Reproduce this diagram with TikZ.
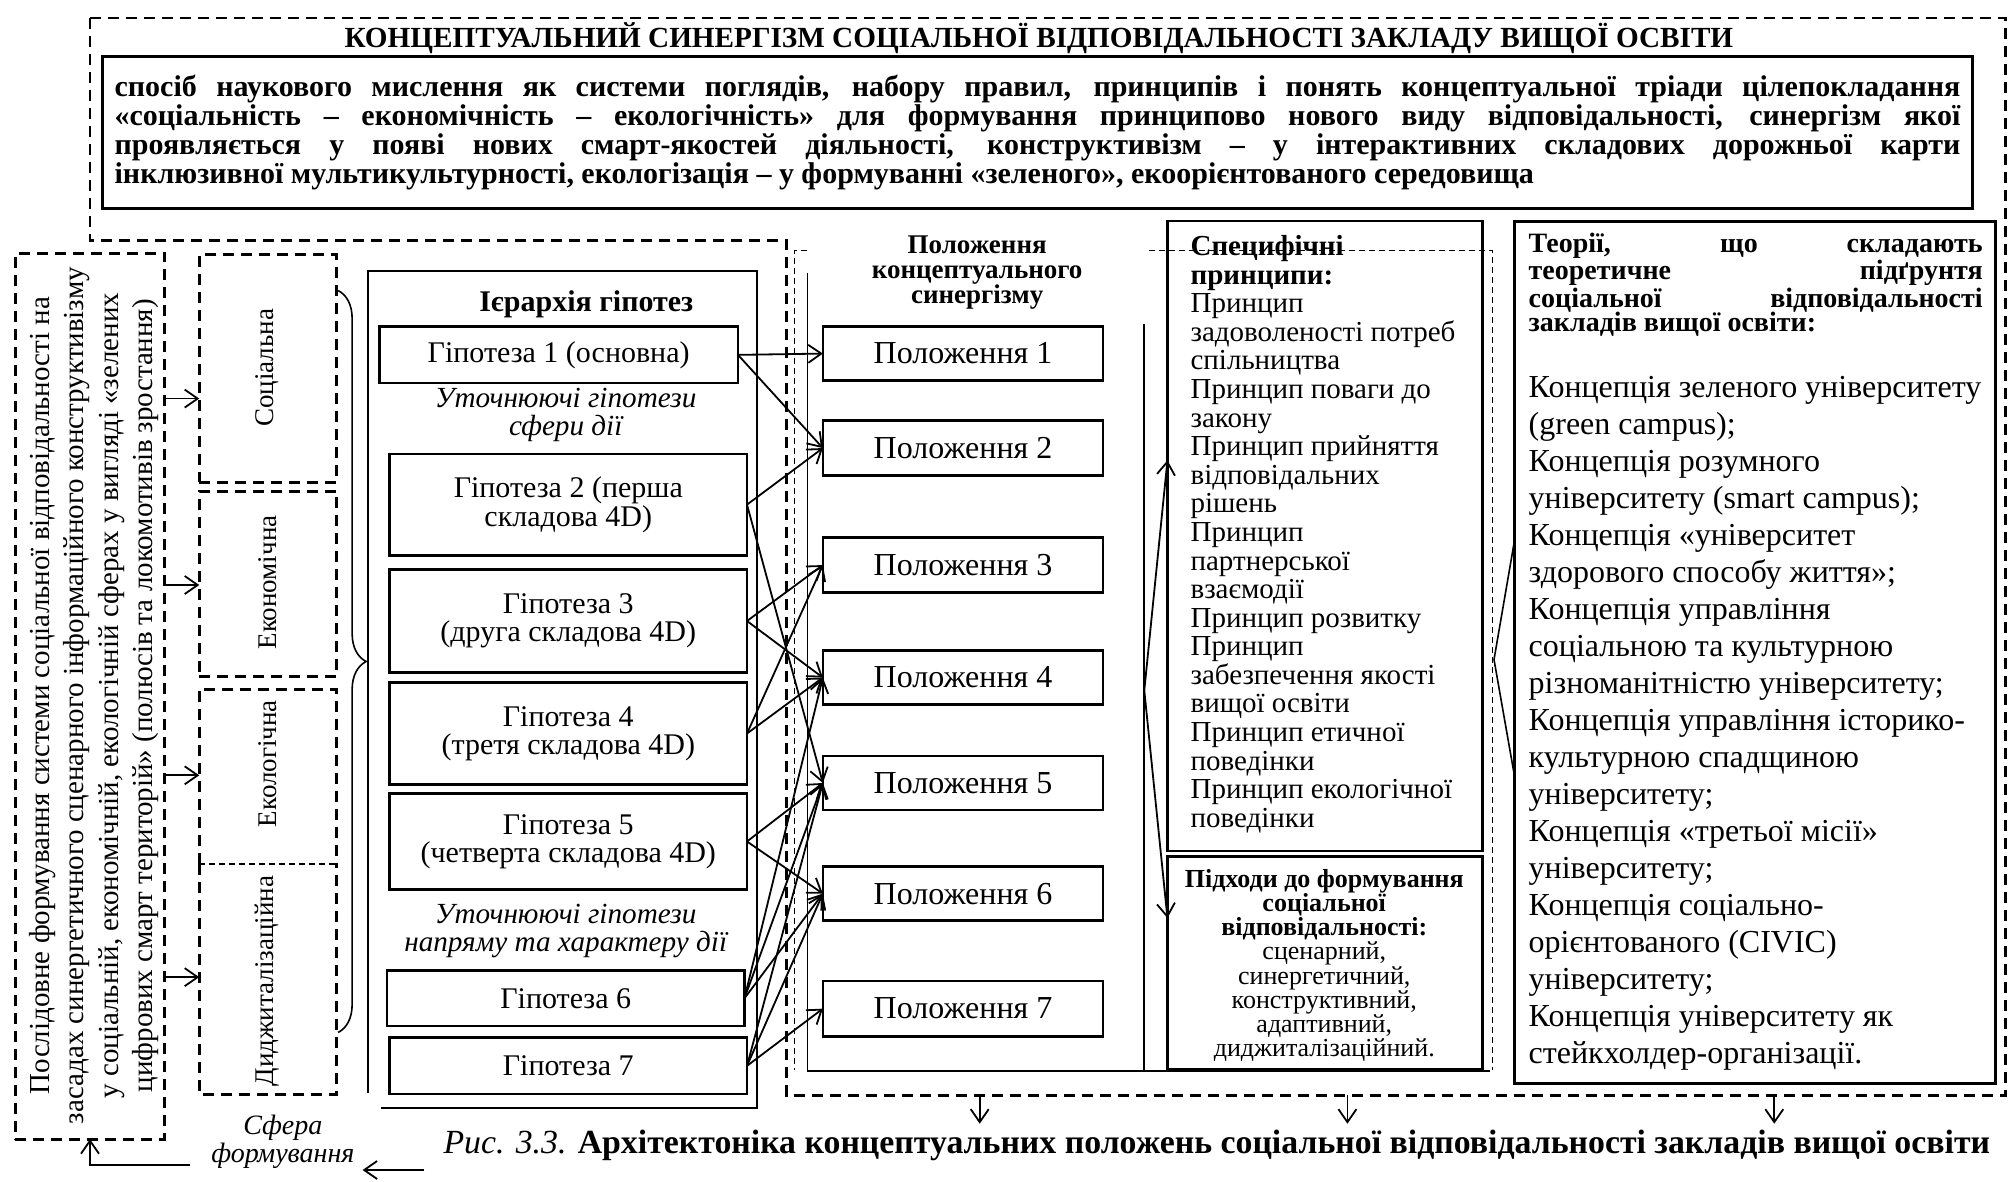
\documentclass[tikz,border=0pt]{standalone}
\usepackage{fontspec}
\setmainfont{Liberation Serif}
\usetikzlibrary{arrows.meta,fit,decorations.pathreplacing}
\newcommand{\fsz}[2]{\fontsize{#1}{#2}\selectfont}
\tolerance=9999
\hyphenpenalty=10000

\begin{document}
\begin{tikzpicture}[x=0.6429pt, y=-0.6429pt,
      >={Straight Barb[length=6.5pt,width=9pt]},
      every node/.style={inner sep=0pt, outer sep=0pt},
      bigdash/.style={line width=1.4pt, dash pattern=on 5.5pt off 3.5pt},
      thindash/.style={line width=0.6pt, dash pattern=on 3pt off 2pt},
      box/.style={draw, line width=1.3pt},
      hyptext/.style={align=center, font=\fsz{15}{14.2}},
      postext/.style={font=\fsz{16}{18}},
      sphere/.style={draw, bigdash},
      vlabel/.style={rotate=90, font=\fsz{13.5}{15}},
      hypnote/.style={align=center, font=\fsz{14.6}{14}\itshape},
      arr/.style={->, line width=0.9pt}]
      \useasboundingbox (0,0) rectangle (1568,919);

      \draw[bigdash] (70,14) -- (1560,14) -- (1560,852) -- (612,852) -- (612,187) -- (70,187) -- cycle;

      \node[font=\fsz{14.6}{16}\bfseries] (title) at (808,30)
        {КОНЦЕПТУАЛЬНИЙ СИНЕРГІЗМ СОЦІАЛЬНОЇ ВІДПОВІДАЛЬНОСТІ ЗАКЛАДУ ВИЩОЇ ОСВІТИ};
      \node[box, line width=1.6pt, fit={(80,44) (1534,162)}] (sense) {};
      \node[text width=923pt, align=justify, font=\fsz{15}{14.6}\bfseries] (sensetxt) at (sense)
        {спосіб наукового мислення як системи поглядів, набору правил, принципів і понять концептуальної тріади цілепокладання\linebreak
         «соціальність – економічність – екологічність» для формування принципово нового виду відповідальності, синергізм якої\linebreak
         проявляється у появі нових смарт-якостей діяльності, конструктивізм – у інтерактивних складових дорожньої карти\linebreak
         інклюзивної мультикультурності, екологізація – у формуванні «зеленого», екоорієнтованого середовища};

      % left column
      \node[sphere, fit={(12,197) (128,886)}] (lft) {};
      \node[rotate=90, align=center, font=\fsz{14.5}{17.2}] (lfttxt) at (73,541)
        {Послідовне формування системи соціальної відповідальності на\\
         засадах синергетичного сценарного інформаційного конструктивізму\\
         у соціальній, економічній, екологічній сферах у вигляді «зелених\\
         цифрових смарт територій» (полюсів та локомотивів зростання)};

      \node[sphere, fit={(155,198) (262,375)}] (s1) {};
      \node[sphere, fit={(155,382) (262,526)}] (s2) {};
      \node[fit={(155,536) (262,672)}] (s3) {};
      \node[fit={(155,672) (262,851)}] (s4) {};
      \draw[bigdash] (s3.south west) -- (s3.north west) -- (s3.north east) -- (s3.south east);
      \draw[bigdash] (s4.north west) -- (s4.south west) -- (s4.south east) -- (s4.north east);
      \draw[thindash] (s4.north west) -- (s4.north east);
      \node[vlabel] at (208,286) {Соціальна};
      \node[vlabel] at (208,453) {Економічна};
      \node[vlabel] at (208,594) {Екологічна};
      \node[vlabel] at (208,763) {Диджиталізаційна};
      \foreach \i/\y in {1/310,2/455,3/603,4/760}
        \draw[arr] (lft.east |- 0,\y) -- (s\i.west |- 0,\y);
      \draw[line width=0.8pt, decorate, decoration={brace, amplitude=14pt}] (263,226) -- (263,803);

      % hypotheses
      \draw[line width=0.9pt] (286,850) -- (286,211) -- (589,211) -- (589,862) -- (296,862);
      \node[font=\fsz{15}{16}\bfseries] (hyphead) at (456,237) {Ієрархія гіпотез};
      \node[box, fit={(295,254) (574,298)}] (g1) {};
      \node[box, fit={(303,353) (581,432)}] (g2) {};
      \node[box, fit={(303,443) (581,523)}] (g3) {};
      \node[box, fit={(303,531) (581,610)}] (g4) {};
      \node[box, fit={(303,617) (581,692)}] (g5) {};
      \node[box, fit={(301,755) (579,798)}] (g6) {};
      \node[box, fit={(303,807) (581,851)}] (g7) {};
      \node[hyptext] (g1t) at (g1) {Гіпотеза 1 (основна)};
      \node[hyptext] (g2t) at (g2) {Гіпотеза 2 (перша\\складова 4D)};
      \node[hyptext] (g3t) at (g3) {Гіпотеза 3\\(друга складова 4D)};
      \node[hyptext] (g4t) at (g4) {Гіпотеза 4\\(третя складова 4D)};
      \node[hyptext] (g5t) at (g5) {Гіпотеза 5\\(четверта складова 4D)};
      \node[hyptext] (g6t) at (g6) {Гіпотеза 6};
      \node[hyptext] (g7t) at (g7) {Гіпотеза 7};
      \node[hypnote] (note1) at (440,323) {Уточнюючі гіпотези\\сфери дії};
      \node[hypnote] (note2) at (440,724) {Уточнюючі гіпотези\\напряму та характеру дії};

      % positions
      \draw[line width=0.9pt] (628,212) -- (628,833) -- (1159,833);
      \draw[line width=0.9pt] (890,252) -- (890,833);
      \node[align=center, font=\fsz{13.5}{12.4}\bfseries] (poshead) at (760,212)
        {Положення\\концептуального\\синергізму};
      \foreach \i/\t/\b in {1/254/296,2/327/370,3/418/461,4/506/548,5/588/630,6/674/716,7/763/806} {
        \node[box, fit={(640,\t) (858,\b)}] (p\i) {};
        \node[postext] (p\i t) at (p\i) {Положення \i};
      }
      \foreach \a/\b in {1/1,1/2,2/2,2/5,3/3,3/4,4/3,4/4,5/5,5/6,6/4,6/5,6/6,7/5,7/6,7/7}
        \draw[arr] (g\a.east) -- (p\b.west);

      % principles and approaches
      \node[box, fit={(908,172) (1153,662)}] (spec) {};
      \node[anchor=north west, align=left, font=\fsz{14.5}{14.3}] (spectxt) at (926,183)
        {\textbf{Специфічні}\\ \textbf{принципи:}\\ Принцип\\ задоволеності потреб\\ спільництва\\
         Принцип поваги до\\ закону\\ Принцип прийняття\\ відповідальних\\ рішень\\ Принцип\\
         партнерської\\ взаємодії\\ Принцип розвитку\\ Принцип\\ забезпечення якості\\ вищої освіти\\
         Принцип етичної\\ поведінки\\ Принцип екологічної\\ поведінки};
      \node[box, fit={(908,666) (1153,832)}] (appr) {};
      \node[align=center, font=\fsz{13}{12.1}] (apprtxt) at (1030,751)
        {\textbf{Підходи до формування}\\ \textbf{соціальної}\\ \textbf{відповідальності:}\\
         сценарний,\\ синергетичний,\\ конструктивний,\\ адаптивний,\\ диджиталізаційний.};
      \coordinate (fork) at (890,537);
      \draw[arr] (fork) -- (spec.west |- 0,358);
      \draw[arr] (fork) -- (appr.west |- 0,714);

      % theories
      \node[box, line width=1.4pt, fit={(1178,172) (1552,843)}] (theo) {};
      \node[anchor=north west, text width=227pt, align=justify, font=\fsz{14}{12.4}\bfseries] (theohead) at (1189,181)
        {Теорії, що складають\linebreak теоретичне підґрунтя\linebreak соціальної відповідальності\linebreak закладів вищої освіти:};
      \node[anchor=north west, align=left, font=\fsz{16}{18.5}] (theolist) at (1189,293)
        {Концепція зеленого університету\\ (green campus);\\ Концепція розумного\\ університету (smart campus);\\
         Концепція «університет\\ здорового способу життя»;\\ Концепція управління\\ соціальною та культурною\\
         різноманітністю університету;\\ Концепція управління історико-\\ культурною спадщиною\\ університету;\\
         Концепція «третьої місії»\\ університету;\\ Концепція соціально-\\ орієнтованого (CIVIC)\\ університету;\\
         Концепція університету як\\ стейкхолдер-організації.};
      \coordinate (wa) at (1178,420);
      \coordinate (wb) at (1162,513);
      \coordinate (wc) at (1178,604);
      \draw[line width=0.8pt] (wa) -- (wb) -- (wc);

      \draw[thindash] (628,195) -- (618,195) -- (618,832);
      \draw[thindash] (894,195) -- (1161,195) -- (1161,832);
      % \draw[thindash] (628,195) -- (894,195);

      % bottom
      \foreach \x [count=\i] in {762,1048,1380} {
        \coordinate (d\i) at (\x,852);
        \coordinate (e\i) at (\x,874);
        \draw[arr] (d\i) -- (e\i);
      }
      \node[align=center, font=\fsz{14}{12}\itshape] (sfera) at (220,888) {Сфера\\формування};
      \coordinate (ca) at (330,910);
      \coordinate (cb) at (282,910);
      \draw[arr] (ca) -- (cb);
      \coordinate (fa) at (148,906);
      \draw[arr] (fa) -| (lft.south);
      \node[anchor=west, font=\fsz{16.9}{18}] (cap) at (345,891)
        {\textit{Рис. 3.3.} \textbf{Архітектоніка концептуальних положень соціальної відповідальності закладів вищої освіти}};
    \end{tikzpicture}
\end{document}
